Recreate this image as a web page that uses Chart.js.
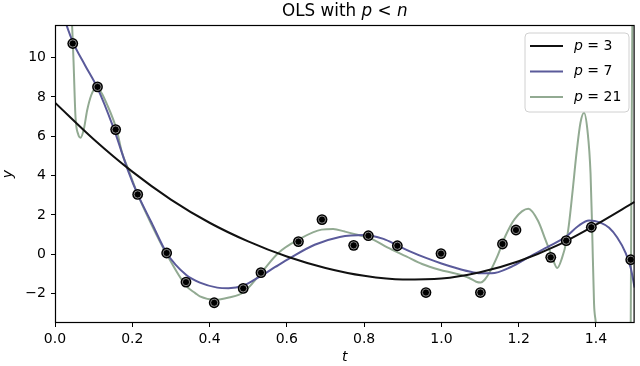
<!DOCTYPE html>
<html lang="en">
  <head>
    <meta charset="UTF-8" />
    <title>OLS with p &lt; n</title>
    <script src="https://cdn.jsdelivr.net/npm/chart.js"></script>
    <style>
      body {
        margin: 0;
        padding: 0;
        background: #fff;
      }
      #wrap {
        width: 640px;
        height: 366px;
      }
    </style>
  </head>
  <body>
    <div id="wrap">
      <canvas id="olsChart" width="640" height="366"></canvas>
    </div>

    <script>
      // observed samples
      const tData = [0.046, 0.110, 0.157, 0.214, 0.289, 0.339, 0.412, 0.487, 0.533, 0.630, 0.691, 0.773,
        0.811, 0.886, 0.960, 0.999, 1.101, 1.158, 1.193, 1.283, 1.323, 1.388, 1.490];
      const yData = [10.72, 8.51, 6.34, 3.04, 0.06, -1.42, -2.47, -1.74, -0.94, 0.64, 1.76, 0.45,
        0.94, 0.43, -1.95, 0.03, -1.95, 0.52, 1.23, -0.16, 0.69, 1.37, -0.28];

      // fitted curves
      const tP3 = [0, 0.1, 0.2, 0.3, 0.4, 0.5, 0.6, 0.7, 0.8, 0.9, 1.0, 1.1, 1.2, 1.3, 1.4, 1.5];
      const yP3 = [7.71, 5.85, 4.2, 2.78, 1.6, 0.65, -0.12, -0.7, -1.1, -1.29, -1.24, -0.92, -0.36, 0.45, 1.5, 2.66];

      const tP7 = [0.02, 0.046, 0.078, 0.11, 0.15, 0.19, 0.214, 0.25, 0.289, 0.339, 0.375, 0.42, 0.449,
        0.487, 0.533, 0.57, 0.608, 0.672, 0.737, 0.8, 0.85, 0.886, 0.92, 0.96, 1.0, 1.038, 1.07, 1.1,
        1.13, 1.18, 1.227, 1.28, 1.323, 1.355, 1.382, 1.41, 1.434, 1.455, 1.477, 1.49, 1.5];
      const yP7 = [12.2, 10.8, 9.6, 8.45, 6.5, 4.2, 3.04, 1.6, 0.06, -1.05, -1.45, -1.7, -1.73,
        -1.6, -1.1, -0.65, -0.2, 0.48, 0.88, 0.98, 0.78, 0.45, 0.13, -0.19, -0.47, -0.7, -0.87, -0.97,
        -0.97, -0.65, -0.14, 0.42, 0.9, 1.45, 1.72, 1.62, 1.34, 0.85, 0.06, -0.7, -1.7];

      const tP21 = [0.035, 0.044, 0.048, 0.053, 0.06, 0.066, 0.075, 0.083, 0.094, 0.104, 0.115, 0.135,
        0.16, 0.173, 0.19, 0.214, 0.25, 0.289, 0.339, 0.363, 0.375, 0.414, 0.45, 0.487, 0.533, 0.578,
        0.63, 0.69, 0.72, 0.75, 0.79, 0.823, 0.86, 0.909, 0.95, 0.995, 1.04, 1.072, 1.09, 1.102, 1.112,
        1.124, 1.145, 1.165, 1.19, 1.225, 1.25, 1.27, 1.283, 1.3, 1.312, 1.323, 1.33, 1.34, 1.35, 1.36,
        1.369, 1.378, 1.386, 1.39, 1.395, 1.4, 1.41, 1.44, 1.47, 1.485, 1.49, 1.492, 1.495];
      const yP21 = [14, 11.71, 9.8, 7.0, 6.1, 5.93, 6.4, 7.3, 8.1, 8.42, 8.35, 7.6,
        6.3, 5.2, 4.3, 3.04, 1.5, 0.0, -1.6, -1.98, -2.15, -2.32, -2.2, -1.95, -0.96, 0.06,
        0.74, 1.25, 1.28, 1.15, 0.95, 0.74, 0.35, -0.11, -0.5, -0.79, -1.0, -1.21, -1.4, -1.44, -1.3,
        -0.95, -0.1, 0.9, 1.8, 2.31, 1.7, 0.7, 0.06, -0.7, -0.2, 0.6, 1.5, 3.3, 5.2, 6.7,
        7.2, 6.3, 4.1, 1.4, -2.5, -3.6, -8, -20, -20, -8, -3.5, 5, 14];

      const xTicks = [0.0, 0.2, 0.4, 0.6, 0.8, 1.0, 1.2, 1.4];
      const yTicks = [-2, 0, 2, 4, 6, 8, 10];

      const seriesNames = ["3", "7", "21"];
      const seriesColors = ["#111111", "#5a5a9a", "#92aa92"];

      const FONT = "DejaVu Sans";

      function pairs(xs, ys) {
        return xs.map((x, i) => ({ x: x, y: ys[i] }));
      }

      function lineSet(xs, ys, color, order) {
        return {
          data: pairs(xs, ys),
          showLine: true,
          borderColor: color,
          borderWidth: 2,
          pointRadius: 0,
          cubicInterpolationMode: "monotone",
          clip: 0,
          order: order,
        };
      }

      // title, frame and in-axes legend
      const decor = {
        id: "decor",
        afterDatasetsDraw(chart) {
          const ctx = chart.ctx;
          const a = chart.chartArea;
          ctx.save();

          // frame
          ctx.strokeStyle = "#000";
          ctx.lineWidth = 1.2;
          ctx.strokeRect(a.left + 0.5, a.top + 0.5, a.right - a.left - 1, a.bottom - a.top - 1);

          // title with italic p and n
          const parts = [
            ["OLS with ", "normal"],
            ["p", "italic"],
            [" < ", "normal"],
            ["n", "italic"],
          ];
          let w = 0;
          parts.forEach((p) => {
            ctx.font = p[1] + " 16.8px " + FONT;
            w += ctx.measureText(p[0]).width;
          });
          let x = (a.left + a.right) / 2 - w / 2;
          ctx.fillStyle = "#000";
          ctx.textBaseline = "middle";
          parts.forEach((p) => {
            ctx.font = p[1] + " 16.8px " + FONT;
            ctx.fillText(p[0], x, 12);
            x += ctx.measureText(p[0]).width;
          });

          // legend box
          const bx = 525, by = 33, bw = 104, bh = 79, r = 4;
          ctx.beginPath();
          ctx.moveTo(bx + r, by);
          ctx.arcTo(bx + bw, by, bx + bw, by + bh, r);
          ctx.arcTo(bx + bw, by + bh, bx, by + bh, r);
          ctx.arcTo(bx, by + bh, bx, by, r);
          ctx.arcTo(bx, by, bx + bw, by, r);
          ctx.closePath();
          ctx.fillStyle = "rgba(255,255,255,0.85)";
          ctx.fill();
          ctx.strokeStyle = "#d0d0d0";
          ctx.lineWidth = 1;
          ctx.stroke();

          seriesNames.forEach((name, i) => {
            const ly = 46 + i * 25.5;
            ctx.strokeStyle = seriesColors[i];
            ctx.lineWidth = 2;
            ctx.beginPath();
            ctx.moveTo(530, ly);
            ctx.lineTo(563, ly);
            ctx.stroke();
            ctx.fillStyle = "#000";
            ctx.font = "italic 14px " + FONT;
            ctx.fillText("p", 574, ly);
            const pw = ctx.measureText("p").width;
            ctx.font = "14px " + FONT;
            ctx.fillText(" = " + name, 574 + pw, ly);
          });

          ctx.restore();
        },
      };

      const ctx = document.getElementById("olsChart").getContext("2d");
      new Chart(ctx, {
        type: "scatter",
        data: {
          datasets: [
            {
              data: pairs(tData, yData),
              pointRadius: 3.6,
              pointBackgroundColor: "#000",
              pointBorderColor: "rgba(150,150,150,0.9)",
              pointBorderWidth: 1,
              order: 0,
            },
            {
              data: pairs(tData, yData),
              pointRadius: 5.4,
              pointBackgroundColor: "#000",
              pointBorderColor: "#000",
              pointBorderWidth: 0,
              order: 1,
            },
            lineSet(tP3, yP3, seriesColors[0], 2),
            lineSet(tP7, yP7, seriesColors[1], 3),
            lineSet(tP21, yP21, seriesColors[2], 4),
          ],
        },
        options: {
          responsive: false,
          animation: false,
          layout: { padding: { top: 25, right: 3, left: 0, bottom: 0 } },
          plugins: {
            legend: { display: false },
            tooltip: { enabled: false },
          },
          scales: {
            x: {
              type: "linear",
              min: 0,
              max: 1.5,
              afterFit: (s) => {
                s.height = 43;
              },
              afterBuildTicks: (s) => {
                s.ticks = xTicks.map((v) => ({ value: v }));
              },
              grid: {
                drawOnChartArea: false,
                drawTicks: true,
                tickLength: 4,
                color: "#000",
              },
              border: { display: false },
              ticks: {
                color: "#000",
                padding: 4,
                maxRotation: 0,
                font: { family: FONT, size: 14 },
                callback: (v) => v.toFixed(1),
              },
              title: {
                display: true,
                text: "t",
                color: "#000",
                padding: { top: 0, bottom: 0 },
                font: { family: FONT, size: 14, style: "italic" },
              },
            },
            y: {
              type: "linear",
              min: -3.5,
              max: 11.66,
              afterFit: (s) => {
                s.width = 55;
              },
              afterBuildTicks: (s) => {
                s.ticks = yTicks.map((v) => ({ value: v }));
              },
              grid: {
                drawOnChartArea: false,
                drawTicks: true,
                tickLength: 4,
                color: "#000",
              },
              border: { display: false },
              ticks: {
                color: "#000",
                padding: 5,
                font: { family: FONT, size: 14 },
                callback: (v) => String(v).replace("-", "\u2212"),
              },
              title: {
                display: true,
                text: "y",
                color: "#000",
                padding: { top: 0, bottom: 0 },
                font: { family: FONT, size: 14, style: "italic" },
              },
            },
          },
        },
        plugins: [decor],
      });
    </script>
  </body>
</html>
